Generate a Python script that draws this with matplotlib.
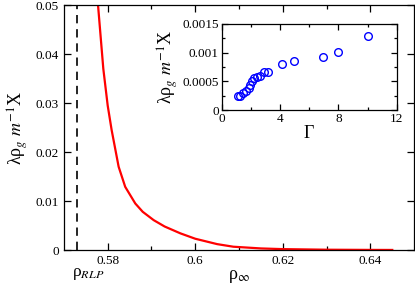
import matplotlib
matplotlib.use("Agg")
import matplotlib.pyplot as plt
from matplotlib.ticker import FixedLocator

plt.rcParams['font.family'] = ['Liberation Serif', 'DejaVu Serif']
plt.rcParams['mathtext.fontset'] = 'stix'

# main curve
rho = [0.5770, 0.5777, 0.5790, 0.5800, 0.5809, 0.5825, 0.5840, 0.5863, 0.5880,
       0.5905, 0.5930, 0.5966, 0.6000, 0.6050, 0.6087, 0.6150, 0.6200, 0.6300,
       0.6400, 0.6450]
val = [0.0600, 0.0510, 0.0370, 0.0295, 0.0245, 0.0170, 0.0129, 0.0095, 0.0078,
       0.0061, 0.0048, 0.0034, 0.0023, 0.0012, 0.00067, 0.00032, 0.00018,
       0.00006, 0.00002, 0.00001]
rho_rlp = 0.573

main_xticks = [0.58, 0.60, 0.62, 0.64]
main_xticklabels = ['0.58', '0.6', '0.62', '0.64']
main_xminor = [0.59, 0.61, 0.63]
main_yticks = [0, 0.01, 0.02, 0.03, 0.04, 0.05]
main_yticklabels = ['0', '0.01', '0.02', '0.03', '0.04', '0.05']

# inset data
gamma = [1.15, 1.25, 1.45, 1.65, 1.85, 1.95, 2.1, 2.2, 2.45, 2.6, 2.9, 3.15,
         4.15, 4.95, 6.95, 8.0, 10.0]
ins = [0.00024, 0.00025, 0.00030, 0.00033, 0.00038, 0.00043, 0.00050, 0.00055,
       0.00058, 0.00060, 0.00066, 0.00067, 0.00080, 0.00086, 0.00093, 0.00101,
       0.00129]
ins_xticks = [0, 4, 8, 12]
ins_xticklabels = ['0', '4', '8', '12']
ins_xminor = [2, 6, 10]
ins_yticks = [0, 0.0005, 0.001, 0.0015]
ins_yticklabels = ['0', '0.0005', '0.001', '0.0015']
ins_yminor = [0.00025, 0.00075, 0.00125]

fig = plt.figure(figsize=(4.15, 2.85), dpi=100)
ax = fig.add_axes([0.154, 0.1228, 0.844, 0.8592])
ax.plot(rho, val, color='red', lw=1.6)
ax.axvline(rho_rlp, color='black', lw=1.2, dashes=(5, 3.5))
ax.set_xticks(main_xticks, main_xticklabels)
ax.xaxis.set_minor_locator(FixedLocator(main_xminor))
ax.set_yticks(main_yticks, main_yticklabels)
ax.set_xlim(0.57, 0.65)
ax.set_ylim(0, 0.05)
ax.tick_params(which='both', direction='in', top=True, right=True, labelsize=9.5, width=0.9)
ax.tick_params(which='major', length=5)
ax.tick_params(which='minor', length=3)
for s in ax.spines.values():
    s.set_linewidth(0.9)
ax.set_xlabel(r'ρ$_\infty$', fontsize=13, labelpad=1)
ax.set_ylabel(r'λρ$_g$ $m^{-1}$X', fontsize=13, labelpad=4)
ax.text(0.023, -0.1, r'ρ$_{RLP}$', transform=ax.transAxes, fontsize=12.5,
        ha='left', va='center')

axi = fig.add_axes([0.534, 0.614, 0.422, 0.302])
axi.plot(gamma, ins, 'o', mfc='none', mec='blue', ms=5.5, mew=1.0)
axi.set_xticks(ins_xticks, ins_xticklabels)
axi.xaxis.set_minor_locator(FixedLocator(ins_xminor))
axi.set_yticks(ins_yticks, ins_yticklabels)
axi.yaxis.set_minor_locator(FixedLocator(ins_yminor))
axi.set_xlim(0, 12)
axi.set_ylim(0, 0.0015)
axi.tick_params(which='both', direction='in', top=True, right=True, labelsize=9.5, width=0.9, pad=2)
axi.tick_params(which='major', length=4)
axi.tick_params(which='minor', length=2.5)
for s in axi.spines.values():
    s.set_linewidth(0.9)
axi.set_xlabel('Γ', fontsize=13, labelpad=0)
axi.set_ylabel(r'λρ$_g$ $m^{-1}$X', fontsize=13, labelpad=2)

fig.savefig('out.png', dpi=100)
